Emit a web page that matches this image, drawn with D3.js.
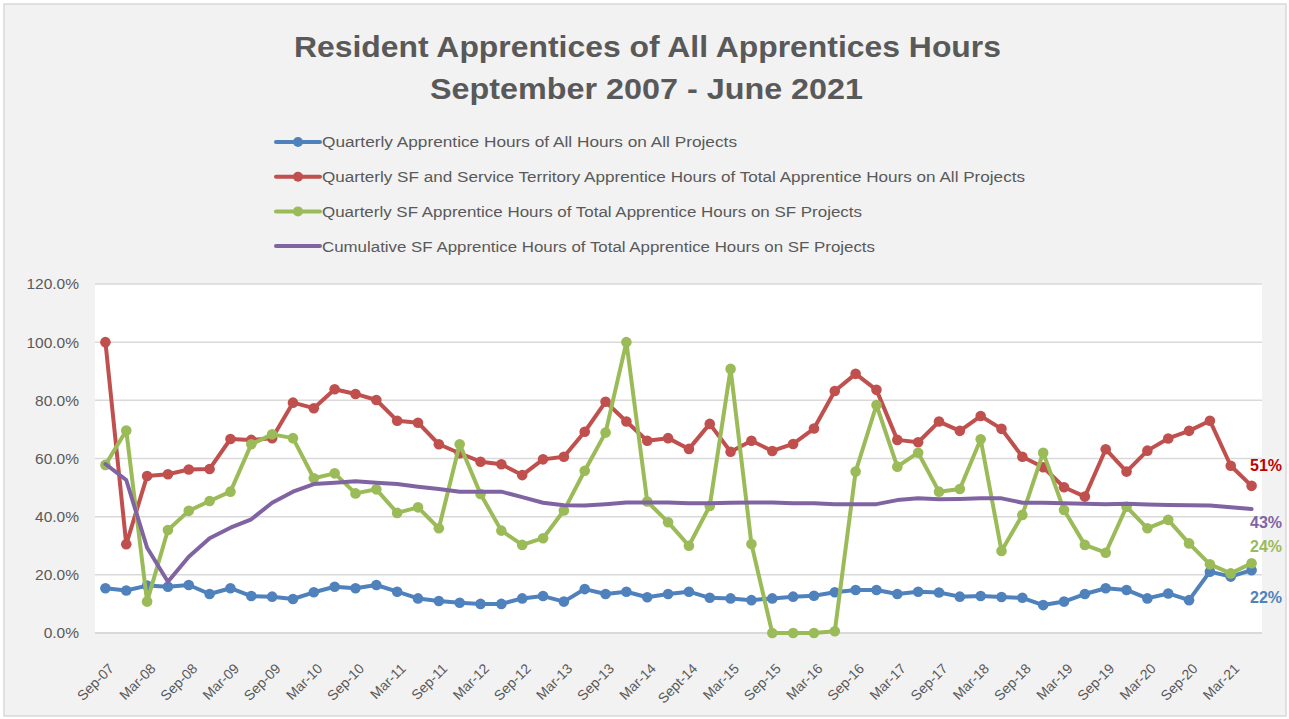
<!DOCTYPE html>
<html>
<head>
<meta charset="utf-8">
<script src="https://cdn.jsdelivr.net/npm/d3@7"></script>
<style>
  body { margin: 0; background: #ffffff; }
  text { font-family: "Liberation Sans", Arial, sans-serif; fill: #595959; }
</style>
</head>
<body>
<svg width="1289" height="719"></svg>
<script>
// quarters, Sep-07 .. Jun-21
var quarters = ["Sep-07","Dec-07","Mar-08","Jun-08","Sep-08","Dec-08","Mar-09","Jun-09","Sep-09","Dec-09",
  "Mar-10","Jun-10","Sep-10","Dec-10","Mar-11","Jun-11","Sep-11","Dec-11","Mar-12","Jun-12",
  "Sep-12","Dec-12","Mar-13","Jun-13","Sep-13","Dec-13","Mar-14","Jun-14","Sept-14","Dec-14",
  "Mar-15","Jun-15","Sep-15","Dec-15","Mar-16","Jun-16","Sep-16","Dec-16","Mar-17","Jun-17",
  "Sep-17","Dec-17","Mar-18","Jun-18","Sep-18","Dec-18","Mar-19","Jun-19","Sep-19","Dec-19",
  "Mar-20","Jun-20","Sep-20","Dec-20","Mar-21","Jun-21"]

var allHours = [15.4,14.6,16.3,15.9,16.5,13.4,15.4,12.7,12.5,11.7,
  14.0,15.9,15.4,16.5,14.2,11.9,11.0,10.4,10.0,10.0,
  11.9,12.7,10.8,15.1,13.4,14.2,12.3,13.4,14.2,12.1,
  11.9,11.3,11.9,12.5,12.8,14.0,14.8,14.8,13.4,14.2,
  13.9,12.5,12.7,12.4,12.1,9.6,10.8,13.4,15.4,14.8,
  11.9,13.6,11.3,21.1,19.4,21.6]

var sfService = [100,30.5,54.0,54.6,56.2,56.4,66.7,66.4,67.0,79.2,
  77.3,83.8,82.2,80.1,73.0,72.3,64.9,61.8,58.9,58.0,
  54.3,59.7,60.6,69.2,79.5,72.7,66.1,67.0,63.3,71.9,
  62.3,66.1,62.6,65.0,70.3,83.2,89.1,83.6,66.4,65.6,
  72.7,69.5,74.6,70.2,60.6,57.0,50.1,46.9,63.2,55.5,
  62.7,66.9,69.5,73.0,57.5,50.6]

var sfProjects = [57.8,69.6,10.8,35.4,42.0,45.4,48.6,64.9,68.3,67.0,
  53.2,54.9,48.0,49.4,41.3,43.2,36.0,64.9,47.8,35.2,
  30.3,32.6,42.1,55.8,68.9,100,45.2,38.1,30.0,43.7,
  90.8,30.6,0,0,0,0.6,55.5,78.4,57.2,62.0,
  48.6,49.5,66.6,28.2,40.6,62.0,42.3,30.3,27.6,43.4,
  36.0,38.9,30.8,23.6,20.5,24.0]

var cumulative = [58.1,52.6,29.3,17.6,26.2,32.6,36.2,39.1,44.8,48.6,
  51.2,51.7,52.2,51.7,51.2,50.3,49.5,48.6,48.6,48.6,
  46.7,44.8,43.9,43.8,44.3,44.9,44.9,44.9,44.6,44.6,
  44.8,44.9,44.9,44.6,44.6,44.3,44.3,44.3,45.7,46.3,
  46.0,46.1,46.3,46.3,44.8,44.8,44.6,44.4,44.3,44.4,
  44.2,44.0,43.9,43.8,43.2,42.6]

var yTicks = [0, 20, 40, 60, 80, 100, 120]

var series = [
  {name: "Quarterly Apprentice Hours of All Hours on All Projects", values: allHours, color: "#4F81BD", labelColor: "#4F81BD", markers: true, labelDy: 27, legendW: 415},
  {name: "Quarterly SF and Service Territory Apprentice Hours of Total Apprentice Hours on All Projects", values: sfService, color: "#C0504D", labelColor: "#C00000", markers: true, labelDy: -20, legendW: 703},
  {name: "Quarterly SF Apprentice Hours of Total Apprentice Hours on SF Projects", values: sfProjects, color: "#9BBB59", labelColor: "#9BBB59", markers: true, labelDy: -17, legendW: 540},
  {name: "Cumulative SF Apprentice Hours of Total Apprentice Hours on SF Projects", values: cumulative, color: "#8064A2", labelColor: "#8064A2", markers: false, labelDy: 13, legendW: 553}
]

var svg = d3.select("svg")

// chart area
svg.append("rect")
  .attr("x", 4).attr("y", 4).attr("width", 1282).attr("height", 712)
  .attr("fill", "#F2F2F2").attr("stroke", "#D9D9D9").attr("stroke-width", 1.5)

var x = d3.scaleBand().domain(quarters).range([95, 1262])
var y = d3.scaleLinear().domain([0, 120]).range([633, 284])
var cx = (q) => x(q) + x.bandwidth() / 2

svg.append("rect")
  .attr("x", 95).attr("y", y(120)).attr("width", 1262 - 95).attr("height", y(0) - y(120))
  .attr("fill", "#ffffff")

// title
var title = svg.append("g").attr("class", "title")
title.append("text").attr("x", 647.5).attr("y", 57)
  .attr("text-anchor", "middle").attr("font-size", 30).attr("font-weight", "bold")
  .attr("textLength", 707).attr("lengthAdjust", "spacingAndGlyphs")
  .text("Resident Apprentices of All Apprentices Hours")
title.append("text").attr("x", 646.5).attr("y", 99)
  .attr("text-anchor", "middle").attr("font-size", 30).attr("font-weight", "bold")
  .attr("textLength", 433).attr("lengthAdjust", "spacingAndGlyphs")
  .text("September 2007 - June 2021")

// y axis + gridlines
var yAxis = d3.axisLeft(y).tickValues(yTicks).tickFormat((d) => d.toFixed(1) + "%").tickSize(0).tickPadding(16)
var yg = svg.append("g").attr("transform", "translate(95,0)").call(yAxis)
yg.select(".domain").remove()
yg.selectAll("text").attr("font-size", 15.5).attr("fill", "#595959")

svg.append("g").selectAll("line").data(yTicks).join("line")
  .attr("x1", 95).attr("x2", 1262)
  .attr("y1", (d) => y(d)).attr("y2", (d) => y(d))
  .attr("stroke", "#D9D9D9").attr("stroke-width", (d) => d === 0 ? 2 : 1.5)

// x axis
var xAxis = d3.axisBottom(x).tickValues(quarters.filter((d, i) => i % 2 === 0)).tickSize(0)
var xg = svg.append("g").attr("transform", "translate(0,633)").call(xAxis)
xg.select(".domain").remove()
xg.selectAll("text")
  .attr("font-size", 14).attr("fill", "#595959")
  .attr("text-anchor", "end")
  .attr("transform", "translate(6,33) rotate(-45)")
  .attr("y", 0).attr("dy", "0.35em")

// lines
var line = d3.line()
  .x((d, i) => cx(quarters[i]))
  .y((d) => y(d))

var plot = svg.append("g")
series.forEach((s) => {
  plot.append("path").datum(s.values)
    .attr("d", line)
    .attr("fill", "none").attr("stroke", s.color)
    .attr("stroke-width", 4).attr("stroke-linejoin", "round").attr("stroke-linecap", "round")
  if (s.markers) {
    plot.append("g").selectAll("circle").data(s.values).join("circle")
      .attr("cx", (d, i) => cx(quarters[i]))
      .attr("cy", (d) => y(d))
      .attr("r", 5.3)
      .attr("fill", s.color)
  }
})

// end labels
svg.append("g").selectAll("text").data(series).join("text")
  .attr("x", 1250)
  .attr("y", (s) => y(s.values[s.values.length - 1]) + s.labelDy)
  .attr("dy", "0.35em")
  .attr("font-size", 16).attr("font-weight", "bold")
  .style("fill", (s) => s.labelColor)
  .text((s) => Math.round(s.values[s.values.length - 1]) + "%")

// legend
var legend = svg.append("g").selectAll("g").data(series).join("g")
  .attr("transform", (s, i) => "translate(276," + (142 + i * 34.7) + ")")
legend.append("line")
  .attr("x1", 0).attr("x2", 44)
  .attr("stroke", (s) => s.color).attr("stroke-width", 4).attr("stroke-linecap", "round")
legend.filter((s) => s.markers).append("circle")
  .attr("cx", 22).attr("r", 5).attr("fill", (s) => s.color)
legend.append("text")
  .attr("x", 46).attr("dy", "0.35em")
  .attr("font-size", 15.5)
  .attr("textLength", (s) => s.legendW).attr("lengthAdjust", "spacingAndGlyphs")
  .text((s) => s.name)
</script>
</body>
</html>
